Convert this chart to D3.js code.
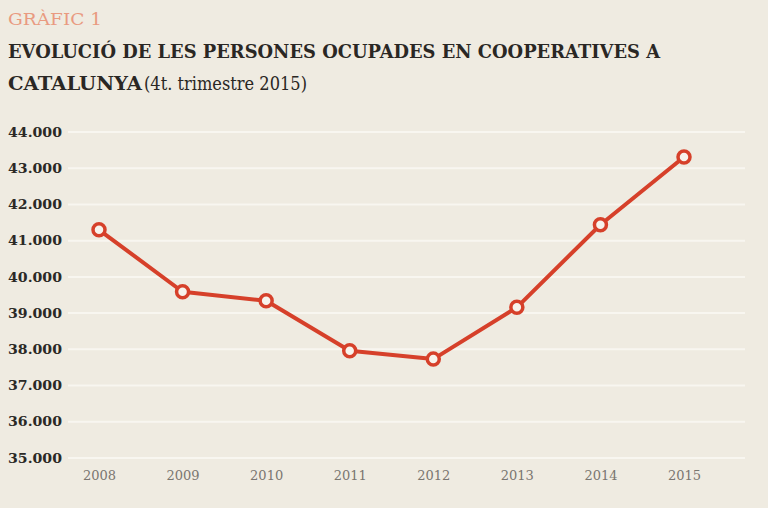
<!DOCTYPE html>
<html><head><meta charset="utf-8">
<script src="https://cdn.jsdelivr.net/npm/d3@7"></script>
<style>html,body{margin:0;padding:0;background:#efebe1;}svg{display:block;}</style>
</head><body>
<svg id="c" width="768" height="508"></svg>
<script>
const years = ["2008","2009","2010","2011","2012","2013","2014","2015"];
const values = [41300, 39590, 39340, 37960, 37730, 39160, 41440, 43310];
const yTicks = [35000, 36000, 37000, 38000, 39000, 40000, 41000, 42000, 43000, 44000];
const yTickLabels = ["35.000","36.000","37.000","38.000","39.000","40.000","41.000","42.000","43.000","44.000"];

const svg = d3.select("#c");
svg.append("rect").attr("width",768).attr("height",508).attr("fill","#efebe1");

const x = d3.scalePoint().domain(years).range([99, 684]);
const y = d3.scaleLinear().domain([35000, 44000]).range([458, 132]);

// gridlines
svg.append("g").selectAll("line").data(yTicks).join("line")
  .attr("x1", 68).attr("x2", 745)
  .attr("y1", d => y(d)).attr("y2", d => y(d))
  .attr("stroke", "#f8f6f0").attr("stroke-width", 2);

// y axis labels
const yAxis = d3.axisLeft(y).tickValues(yTicks).tickFormat(d => yTickLabels[yTicks.indexOf(d)]).tickSize(0).tickPadding(0);
const gy = svg.append("g").attr("transform","translate(62,0)").call(yAxis);
gy.select(".domain").remove();
gy.selectAll("text").attr("font-family","DejaVu Serif").attr("font-weight","bold")
  .attr("font-size",13).attr("fill","#2b2926").attr("dy","0.32em")
  .attr("textLength",54).attr("lengthAdjust","spacingAndGlyphs");

// x axis labels
const xAxis = d3.axisBottom(x).tickSize(0).tickPadding(0);
const gx = svg.append("g").attr("transform","translate(0,471)").call(xAxis);
gx.select(".domain").remove();
gx.selectAll("text").attr("font-family","DejaVu Serif").attr("font-size",13)
  .attr("fill","#7a7670");

// line
const line = d3.line().x((d,i) => x(years[i])).y(d => y(d));
svg.append("path").datum(values).attr("d", line)
  .attr("fill","none").attr("stroke","#d6402a").attr("stroke-width",4)
  .attr("stroke-linejoin","round");

svg.append("g").selectAll("circle").data(values).join("circle")
  .attr("cx",(d,i) => x(years[i])).attr("cy", d => y(d)).attr("r",6)
  .attr("fill","#f7f3ec").attr("stroke","#d6402a").attr("stroke-width",3.5);

// titles
svg.append("text").attr("x",8).attr("y",25).text("GRÀFIC 1")
  .attr("font-family","DejaVu Serif").attr("font-size",17).attr("fill","#e99a80")
  .attr("textLength",94).attr("lengthAdjust","spacingAndGlyphs");
svg.append("text").attr("x",8).attr("y",58).text("EVOLUCIÓ DE LES PERSONES OCUPADES EN COOPERATIVES A")
  .attr("font-family","DejaVu Serif").attr("font-weight","bold").attr("font-size",19).attr("fill","#2a2724")
  .attr("textLength",652).attr("lengthAdjust","spacingAndGlyphs");
svg.append("text").attr("x",8).attr("y",90).text("CATALUNYA")
  .attr("font-family","DejaVu Serif").attr("font-weight","bold").attr("font-size",19).attr("fill","#2a2724")
  .attr("textLength",134).attr("lengthAdjust","spacingAndGlyphs");
svg.append("text").attr("x",144).attr("y",90).text("(4t. trimestre 2015)")
  .attr("font-family","DejaVu Serif").attr("font-size",18).attr("fill","#2a2724")
  .attr("textLength",163).attr("lengthAdjust","spacingAndGlyphs");
</script>
</body></html>
